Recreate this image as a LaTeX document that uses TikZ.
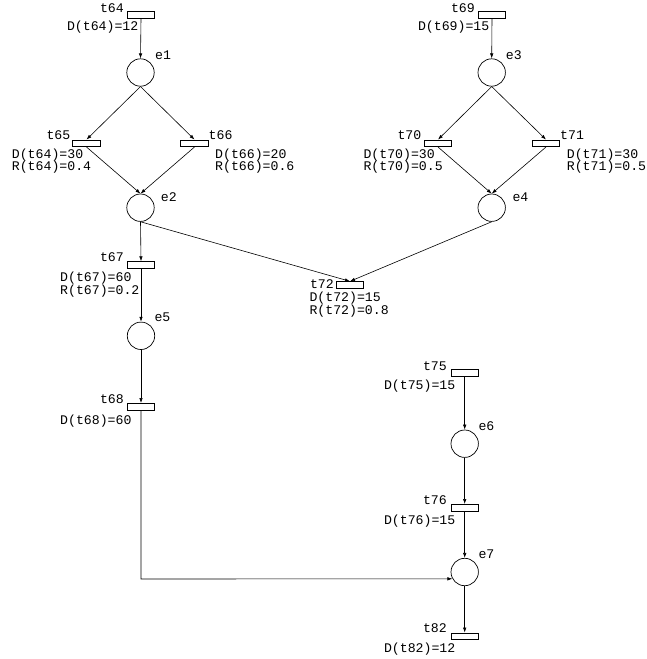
\documentclass[tikz,border=0pt]{standalone}
\usepackage{fontspec}
\setmonofont{Liberation Mono}
\usetikzlibrary{arrows.meta}
\begin{document}
\begin{tikzpicture}[x=1pt,y=-1pt,
  place/.style={draw,circle,line width=0.7pt,minimum size=27.4pt,inner sep=0pt},
  trans/.style={draw,rectangle,line width=0.7pt,minimum width=27.4pt,minimum height=6.7pt,inner sep=0pt},
  lbl/.style={inner sep=0pt,font=\ttfamily\fontsize{13.2}{13}\selectfont},
  arc/.style={line width=0.6pt,-{Latex[length=5pt,width=3.5pt]}}]
\useasboundingbox (0,0) rectangle (647,659);
% left block
\node[trans] (t64) at (141,15) {};
\node[place] (e1) at (140.5,72.5) {};
\node[trans] (t65) at (86.5,143.3) {};
\node[trans] (t66) at (194.5,143.3) {};
\node[place] (e2) at (140.5,207.7) {};
\node[trans] (t67) at (141,265) {};
\node[place] (e5) at (141,335.8) {};
\node[trans] (t68) at (141,406.7) {};
\node[trans] (t72) at (350,285) {};
% right block
\node[trans] (t69) at (492,15) {};
\node[place] (e3) at (491.7,72.5) {};
\node[trans] (t70) at (438,143.3) {};
\node[trans] (t71) at (546,143.3) {};
\node[place] (e4) at (491.7,207.7) {};
% lower right
\node[trans] (t75) at (464.7,373) {};
\node[place] (e6) at (464.7,443.7) {};
\node[trans] (t76) at (464.7,507.7) {};
\node[place] (e7) at (464.7,572) {};
\node[trans] (t82) at (464.7,636.3) {};
% labels
\node[lbl,anchor=base east] (lt64) at (124,12) {t64};
\node[lbl,anchor=base east] (dt64) at (138.5,30.5) {D(t64)=12};
\node[lbl,anchor=base west] (le1) at (155,59) {e1};
\node[lbl,anchor=base east] (lt65) at (70.5,139.5) {t65};
\node[lbl,anchor=base west] (dt65) at (11.7,158.5) {D(t64)=30};
\node[lbl,anchor=base west] (rt65) at (11.7,170.5) {R(t64)=0.4};
\node[lbl,anchor=base west] (lt66) at (208.5,139.5) {t66};
\node[lbl,anchor=base west] (dt66) at (215,158.5) {D(t66)=20};
\node[lbl,anchor=base west] (rt66) at (215,170.5) {R(t66)=0.6};
\node[lbl,anchor=base west] (le2) at (160.7,201.5) {e2};
\node[lbl,anchor=base east] (lt67) at (124,261.5) {t67};
\node[lbl,anchor=base west] (dt67) at (60,281) {D(t67)=60};
\node[lbl,anchor=base west] (rt67) at (60,294) {R(t67)=0.2};
\node[lbl,anchor=base west] (le5) at (154.3,321.5) {e5};
\node[lbl,anchor=base east] (lt68) at (124,403.3) {t68};
\node[lbl,anchor=base west] (dt68) at (60,424) {D(t68)=60};
\node[lbl,anchor=base east] (lt72) at (334,288.3) {t72};
\node[lbl,anchor=base west] (dt72) at (309.3,301) {D(t72)=15};
\node[lbl,anchor=base west] (rt72) at (309.3,314) {R(t72)=0.8};
\node[lbl,anchor=base east] (lt69) at (475,12) {t69};
\node[lbl,anchor=base east] (dt69) at (489.5,30.5) {D(t69)=15};
\node[lbl,anchor=base west] (le3) at (505.7,59) {e3};
\node[lbl,anchor=base east] (lt70) at (421.5,139.5) {t70};
\node[lbl,anchor=base west] (dt70) at (363.3,158.5) {D(t70)=30};
\node[lbl,anchor=base west] (rt70) at (363.3,170.5) {R(t70)=0.5};
\node[lbl,anchor=base west] (lt71) at (560,139.5) {t71};
\node[lbl,anchor=base west] (dt71) at (566.7,158.5) {D(t71)=30};
\node[lbl,anchor=base west] (rt71) at (566.7,170.5) {R(t71)=0.5};
\node[lbl,anchor=base west] (le4) at (512.3,201.5) {e4};
\node[lbl,anchor=base east] (lt75) at (447,370) {t75};
\node[lbl,anchor=base east] (dt75) at (455.5,389) {D(t75)=15};
\node[lbl,anchor=base west] (le6) at (478.3,430) {e6};
\node[lbl,anchor=base east] (lt76) at (447,504) {t76};
\node[lbl,anchor=base east] (dt76) at (455.5,524) {D(t76)=15};
\node[lbl,anchor=base west] (le7) at (478.3,558) {e7};
\node[lbl,anchor=base east] (lt82) at (447,632.7) {t82};
\node[lbl,anchor=base east] (dt82) at (455.5,652.5) {D(t82)=12};
% arcs
\draw[arc] (t64.south) -- (e1.north);
\draw[arc] (e1.south) -- (t65.north);
\draw[arc] (e1.south) -- (t66.north);
\draw[arc] (t65.south) -- (e2.north);
\draw[arc] (t66.south) -- (e2.north);
\draw[arc] (e2.south) -- (t67.north);
\draw[arc] (e2.south) -- (t72.north);
\draw[arc] (t67.south) -- (e5.north);
\draw[arc] (e5.south) -- (t68.north);
\draw[arc] (t69.south) -- (e3.north);
\draw[arc] (e3.south) -- (t70.north);
\draw[arc] (e3.south) -- (t71.north);
\draw[arc] (t70.south) -- (e4.north);
\draw[arc] (t71.south) -- (e4.north);
\draw[arc] (e4.south) -- (t72.north);
\draw[arc] (t75.south) -- (e6.north);
\draw[arc] (e6.south) -- (t76.north);
\draw[arc] (t76.south) -- (e7.north);
\draw[arc] (e7.south) -- (t82.north);
\coordinate (bend) at (141,579);
\draw[arc] (t68.south) -- (bend) -- (e7.209);
\end{tikzpicture}
\end{document}
